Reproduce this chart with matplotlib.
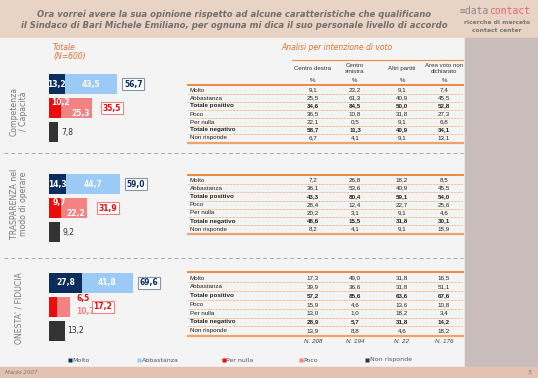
import matplotlib.pyplot as plt
from matplotlib.patches import Rectangle

# dati dei grafici a barre (Totale, N=600)
sezioni = ["Competenza\n/ Capacità", "TRASPARENZA nel\nmodo di operare", "ONESTA' / FIDUCIA"]
molto = [13.2, 14.3, 27.8]
abbastanza = [43.5, 44.7, 41.8]
per_nulla = [10.2, 9.7, 6.5]
poco = [25.3, 22.2, 10.7]
non_risponde = [7.8, 9.2, 13.2]

# tabelle per intenzione di voto
colonne = ["Centro destra", "Centro\nsinistra", "Altri partiti", "Area voto non\ndichiarato"]
righe = ["Molto", "Abbastanza", "Totale positivo", "Poco", "Per nulla", "Totale negativo", "Non risponde"]
tab_competenza = [[9.1, 23.2, 9.1, 7.4], [25.5, 61.3, 40.9, 45.5], [34.6, 84.5, 50.0, 52.8],
                  [36.5, 10.8, 31.8, 27.3], [22.1, 0.5, 9.1, 6.8], [58.7, 11.3, 40.9, 34.1],
                  [6.7, 4.1, 9.1, 13.1]]
tab_trasparenza = [[7.2, 26.8, 18.2, 8.5], [36.1, 53.6, 40.9, 45.5], [43.3, 80.4, 59.1, 54.0],
                   [28.4, 12.4, 22.7, 25.6], [20.2, 3.1, 9.1, 4.6], [48.6, 15.5, 31.8, 30.1],
                   [8.2, 4.1, 9.1, 15.9]]
tab_onesta = [[17.3, 49.0, 31.8, 16.5], [39.9, 36.6, 31.8, 51.1], [57.2, 85.6, 63.6, 67.6],
              [15.9, 4.6, 13.6, 10.8], [13.0, 1.0, 18.2, 3.4], [28.9, 5.7, 31.8, 14.2],
              [13.9, 8.8, 4.6, 18.2]]
numerosita = ["N. 208", "N. 194", "N. 22", "N. 176"]

NAVY = "#0b2d5e"
AZZURRO = "#9ccaf6"
ROSSO = "#ee0a0a"
ROSA = "#f38383"
SCURO = "#333333"
ARANCIO = "#f08a3c"
GRIGIO = "#707070"

W, H = 538, 378


def fmt(v):
    return f"{v:.1f}".replace(".", ",")


fig = plt.figure(figsize=(W / 100, H / 100), dpi=100)
bg = fig.add_axes([0, 0, 1, 1])
bg.set_xlim(0, W)
bg.set_ylim(H, 0)
bg.axis("off")

# sfondi
bg.add_patch(Rectangle((0, 0), W, 38, color="#e9d3c4", zorder=0))
bg.add_patch(Rectangle((0, 38), 465, 329, color="#f4f4f4", zorder=0))
bg.add_patch(Rectangle((465, 38), W - 465, 329, color="#c9bebb", zorder=0))
bg.add_patch(Rectangle((0, 367), W, H - 367, color="#e3c2b2", zorder=0))

# titolo
bg.text(234, 14.5, "Ora vorrei avere la sua opinione rispetto ad alcune caratteristiche che qualificano",
        ha="center", va="center", fontsize=6.1, style="italic", weight="bold", color=GRIGIO)
bg.text(234, 25.5, "il Sindaco di Bari Michele Emiliano, per ognuna mi dica il suo personale livello di accordo",
        ha="center", va="center", fontsize=6.1, style="italic", weight="bold", color=GRIGIO)

# logo
bg.text(489, 11, "\u2261data", ha="right", va="center", fontsize=7, family="DejaVu Sans Mono", color="#8a8a8a")
bg.text(489, 11, "contact", ha="left", va="center", fontsize=7, family="DejaVu Sans Mono", color="#e0686a")
bg.text(497, 23, "ricerche di mercato", ha="center", va="center", fontsize=4.3, weight="bold", color="#777777")
bg.text(497, 31, "contact center", ha="center", va="center", fontsize=4.3, weight="bold", color="#777777")

bg.text(53, 47, "Totale", ha="left", va="center", fontsize=5.5, style="italic", color="#e2702e")
bg.text(53, 56, "(N=600)", ha="left", va="center", fontsize=5.5, style="italic", color="#e2702e")
bg.text(281, 47, "Analisi per intenzione di voto", ha="left", va="center", fontsize=5.5,
        style="italic", color="#e2702e")

# separatori tratteggiati
for y in [153, 258]:
    bg.plot([4, 463], [y, y], color="#a8a8a8", lw=0.7, ls=(0, (4, 3)))

# etichette verticali delle sezioni
for lab, yc in zip(sezioni, [111, 204, 308]):
    bg.text(19, yc, lab, rotation=90, ha="center", va="center", fontsize=5.6,
            color="#7a7a7a", linespacing=1.05)

# intestazione tabella
col_x = [313, 355, 402, 444]
bg.plot([292, 463], [60, 60], color=ARANCIO, lw=0.8)
for x, c in zip(col_x, colonne):
    bg.text(x, 68.5, c, ha="center", va="center", fontsize=4.4, family="Liberation Sans",
            color="#333333", linespacing=1.3)
    bg.text(x, 80, "%", ha="center", va="center", fontsize=4.4, family="Liberation Sans", color="#333333")


def tabella(valori, top, y0, step, n_row=None):
    bg.plot([188, 463], [top, top], color=ARANCIO, lw=1.4)
    for i, (lab, riga) in enumerate(zip(righe, valori)):
        y = y0 + i * step
        peso = "bold" if lab.startswith("Totale") else "normal"
        bg.text(190, y, lab, ha="left", va="center", fontsize=4.5, family="Liberation Sans",
                weight=peso, color="#222222")
        for x, v in zip(col_x, riga):
            bg.text(x, y, fmt(v), ha="center", va="center", fontsize=4.5, family="Liberation Sans",
                    weight=peso, color="#222222")
        if i < len(righe) - 1:
            bg.plot([188, 463], [y + step / 2, y + step / 2], color=ARANCIO, lw=0.5, ls=(0, (1, 1)))
    yb = y0 + (len(righe) - 0.5) * step + 0.5
    bg.plot([188, 463], [yb, yb], color="#eea36a", lw=1.6)
    if n_row:
        for x, n in zip(col_x, n_row):
            bg.text(x, yb + 6, n, ha="center", va="center", fontsize=4.5, family="Liberation Sans",
                    style="italic", color="#444444")


tabella(tab_competenza, 85, 90, 8.0)
tabella(tab_trasparenza, 175, 180, 8.2)
tabella(tab_onesta, 272, 278, 8.8, numerosita)

# grafici a barre
SCALA = 1.2  # pixel per punto percentuale
for k, top in enumerate([72, 172, 271]):
    ax = fig.add_axes([49 / W, 1 - (top + 72) / H, 151 / W, 72 / H])
    ax.set_xlim(0, 151 / SCALA)
    ax.set_ylim(2.5, -0.5)
    ax.axis("off")
    hb = 0.83
    ax.barh(0, molto[k], height=hb, color=NAVY)
    ax.barh(0, abbastanza[k], left=molto[k], height=hb, color=AZZURRO)
    ax.barh(1, per_nulla[k], height=hb, color=ROSSO)
    ax.barh(1, poco[k], left=per_nulla[k], height=hb, color=ROSA)
    ax.barh(2, non_risponde[k], height=hb, color=SCURO)

    ax.text(molto[k] / 2, 0, fmt(molto[k]), ha="center", va="center", fontsize=5.5,
            weight="bold", color="white")
    ax.text(molto[k] + abbastanza[k] / 2, 0, fmt(abbastanza[k]), ha="center", va="center",
            fontsize=5.5, weight="bold", color="white")
    pos = molto[k] + abbastanza[k]
    ax.annotate(fmt(pos), xy=(pos, 0), xytext=(5, 0), textcoords="offset points",
                ha="left", va="center", fontsize=5.5, weight="bold", color=NAVY,
                bbox=dict(boxstyle="square,pad=0.2", fc="white", ec="#8595ad", lw=0.8))

    neg = per_nulla[k] + poco[k]
    fuori = neg < 20
    if fuori:
        ax.annotate(fmt(per_nulla[k]), xy=(neg, 0.63), xytext=(5, 0), textcoords="offset points",
                    ha="left", va="center", fontsize=5.5, weight="bold", color=ROSSO)
        ax.annotate(fmt(poco[k]), xy=(neg, 1.17), xytext=(5, 0), textcoords="offset points",
                    ha="left", va="center", fontsize=5.5, weight="bold", color=ROSA)
    else:
        ax.text(per_nulla[k] * 0.9, 0.79, fmt(per_nulla[k]), ha="center", va="center",
                fontsize=5.5, weight="bold", color="white")
        ax.text(neg - 1.5, 1.21, fmt(poco[k]), ha="right", va="center",
                fontsize=5.5, weight="bold", color="white")
    ax.annotate(fmt(neg), xy=(neg, 1), xytext=(17 if fuori else 8, 0), textcoords="offset points",
                ha="left", va="center", fontsize=5.5, weight="bold", color=ROSSO,
                bbox=dict(boxstyle="square,pad=0.2", fc="white", ec=ROSA, lw=0.8))
    ax.annotate(fmt(non_risponde[k]), xy=(non_risponde[k], 2), xytext=(2, 0),
                textcoords="offset points", ha="left", va="center", fontsize=5.5, color=SCURO)

# legenda
voci = ["Molto", "Abbastanza", "Per nulla", "Poco", "Non risponde"]
colori = [NAVY, AZZURRO, ROSSO, ROSA, SCURO]
for x, v, c in zip([68, 137, 222, 299, 365], voci, colori):
    bg.plot(x + 2, 360, marker="s", ms=3, color=c, mec="none")
    bg.text(x + 4.5, 360, v, ha="left", va="center", fontsize=4.5, color="#555555")

bg.text(5, 373, "Marzo 2007", ha="left", va="center", fontsize=4, style="italic", color="#777777")
bg.text(532, 373, "5", ha="right", va="center", fontsize=4.5, style="italic", color="#777777")

fig.savefig("out.png", dpi=100)
